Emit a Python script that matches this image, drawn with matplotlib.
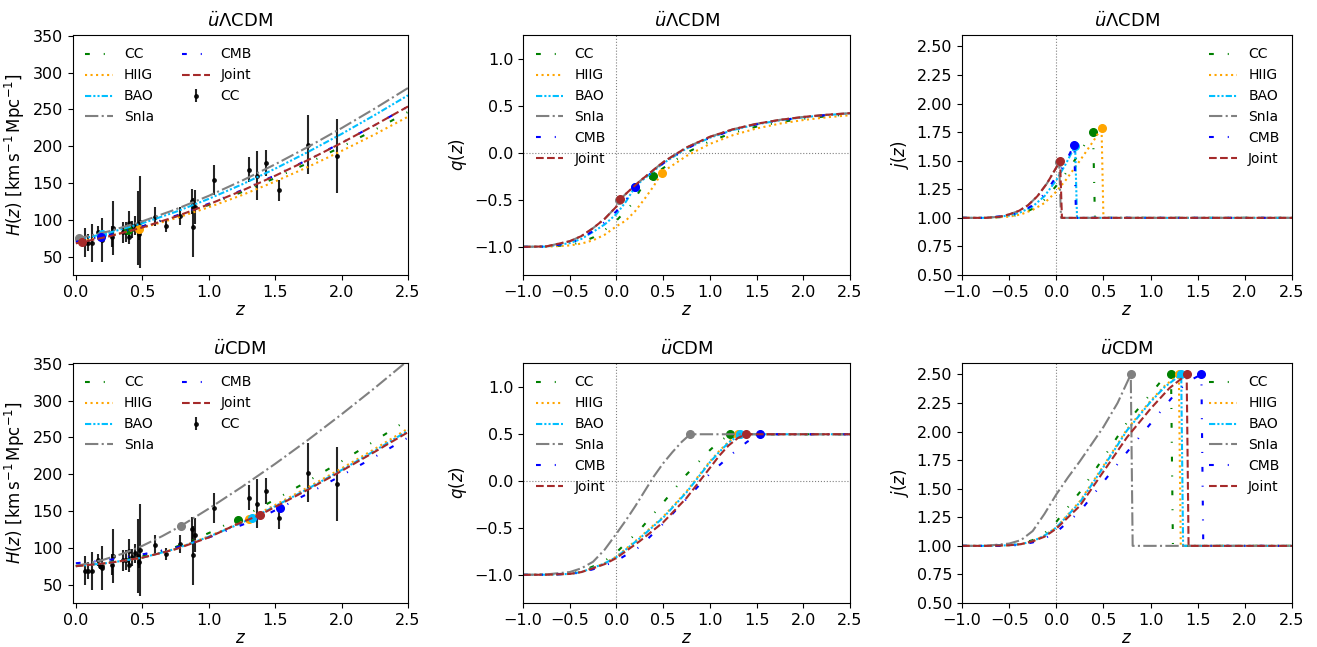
import matplotlib
matplotlib.use("Agg")
import matplotlib.pyplot as plt

# series order, colours and line styles shared by every panel
SERIES = ["CC", "HIIG", "BAO", "SnIa", "CMB", "Joint"]
COLORS = ["green", "orange", "deepskyblue", "gray", "blue", "brown"]
LOOSE_DD = (0, (2.3, 6.7, 0.5, 6.7))
STYLES = [LOOSE_DD, ":", (0, (3, 1, 1, 1, 1, 1)), "-.", LOOSE_DD, "--"]

# cosmic chronometer data
CC_Z = [0.07, 0.09, 0.12, 0.17, 0.179, 0.199, 0.2, 0.27, 0.28, 0.352, 0.38, 0.4,
        0.4004, 0.425, 0.445, 0.47, 0.4783, 0.48, 0.593, 0.68, 0.781, 0.875, 0.88,
        0.9, 1.037, 1.3, 1.363, 1.43, 1.53, 1.75, 1.965]
CC_H = [69, 69, 68.6, 83, 75, 75, 72.9, 77, 88.8, 83, 83, 95, 77, 87.1, 92.8, 89,
        80.9, 97, 104, 92, 105, 125, 90, 117, 154, 168, 160, 177, 140, 202, 186.5]
CC_ERR = [19.6, 12, 26.2, 8, 4, 5, 29.6, 14, 36.6, 14, 13.5, 17, 10.2, 11.2, 12.9,
          50, 9, 62, 13, 8, 12, 17, 40, 23, 20, 17, 33.6, 18, 14, 40, 50.4]

# ---- H(z), u-Lambda-CDM (top left) ----
HL_Z = [0, 0.25, 0.5, 0.75, 1.0, 1.25, 1.5, 1.75, 2.0, 2.25, 2.5]
HL_CC = [71.5, 79.9, 90.9, 104.4, 120.1, 137.6, 156.7, 177.3, 199.2, 222.3, 246.5]
HL_HIIG = [69.5, 78.0, 89.0, 102.0, 117.0, 133.5, 152.0, 172.0, 193.5, 216.0, 240.0]
HL_BAO = [72.5, 82.4, 95.2, 110.7, 128.4, 148.0, 169.4, 192.4, 216.6, 242.3, 269.1]
HL_SNIA = [74.0, 84.4, 97.9, 114.0, 132.5, 153.1, 175.3, 199.2, 224.5, 251.1, 279.0]
HL_CMB = [70.0, 79.1, 91.0, 105.3, 121.8, 140.2, 160.3, 181.8, 204.6, 228.6, 253.8]
HL_JOINT = [68.0, 77.4, 89.5, 104.2, 120.9, 139.5, 159.8, 181.4, 204.4, 228.6, 253.9]
HL_MARK_Z = [0.394, 0.477, 0.20, 0.025, 0.193, 0.043]
HL_MARK_V = [86.2, 88.0, 80.4, 75.0, 77.0, 69.6]

# ---- H(z), u-CDM (bottom left) ----
HU_CC_Z = [0, 0.25, 0.5, 0.75, 0.9, 1.034, 1.134, 1.217, 1.5, 1.75, 2.0, 2.25, 2.5]
HU_CC = [75.5, 80.5, 88.5, 101.0, 112.0, 122.7, 132.0, 138.2, 165.5, 190.9, 217.5, 245.3, 274.1]
HU_HIIG_Z = [0, 0.25, 0.5, 0.75, 1.0, 1.2, 1.30, 1.5, 1.75, 2.0, 2.25, 2.5]
HU_HIIG = [75.0, 79.5, 86.5, 98.5, 115.5, 131.0, 139.5, 158.1, 182.4, 207.8, 234.3, 261.9]
HU_BAO_Z = [0, 0.25, 0.5, 0.75, 1.0, 1.2, 1.325, 1.5, 1.75, 2.0, 2.25, 2.5]
HU_BAO = [75.0, 79.5, 86.5, 98.5, 115.0, 130.0, 140.3, 156.4, 180.5, 205.6, 231.9, 259.1]
HU_SNIA_Z = [0, 0.2, 0.37, 0.5, 0.65, 0.79, 1.0, 1.25, 1.5, 1.75, 2.0, 2.25, 2.5]
HU_SNIA = [75.1, 83.3, 93.0, 102.6, 115.8, 129.6, 153.1, 182.7, 214.0, 246.8, 281.3, 317.1, 354.4]
HU_CMB_Z = [0, 0.25, 0.5, 0.75, 1.0, 1.25, 1.4, 1.539, 1.75, 2.0, 2.25, 2.5]
HU_CMB = [79.0, 83.5, 91.0, 100.0, 114.0, 131.0, 142.0, 154.3, 173.9, 198.2, 223.5, 249.7]
HU_JOINT_Z = [0, 0.25, 0.5, 0.75, 1.0, 1.2, 1.383, 1.5, 1.75, 2.0, 2.25, 2.5]
HU_JOINT = [75.0, 79.5, 86.5, 98.0, 114.0, 131.0, 144.4, 155.5, 179.3, 204.4, 230.4, 257.0]
HU_MARK_Z = [1.217, 1.30, 1.325, 0.79, 1.539, 1.383]
HU_MARK_V = [138.2, 139.5, 140.3, 129.6, 154.3, 144.4]

# ---- q(z), u-Lambda-CDM (top middle) ----
Q_TAIL_Z = [0.75, 1.0, 1.25, 1.5, 1.75, 2.0, 2.25, 2.5]
QL_CC_Z = [-1, -0.75, -0.5, -0.375, -0.25, -0.125, 0, 0.16, 0.28, 0.396, 0.5] + Q_TAIL_Z
QL_CC = [-1.0, -0.998, -0.98, -0.95, -0.90, -0.82, -0.72, -0.55, -0.35, -0.24, -0.160,
         0.004, 0.127, 0.217, 0.283, 0.331, 0.366, 0.393, 0.413]
QL_HIIG_Z = [-1, -0.75, -0.5, -0.375, -0.25, -0.125, 0, 0.1, 0.2, 0.3, 0.4, 0.485, 0.5] + Q_TAIL_Z
QL_HIIG = [-1.0, -0.998, -0.985, -0.965, -0.93, -0.87, -0.78, -0.72, -0.62, -0.49, -0.35, -0.208,
           -0.197, -0.030, 0.098, 0.193, 0.263, 0.315, 0.353, 0.382, 0.404]
QL_BAO_Z = [-1, -0.75, -0.5, -0.375, -0.25, -0.125, 0, 0.1, 0.2, 0.25, 0.5] + Q_TAIL_Z
QL_BAO = [-1.0, -0.997, -0.96, -0.915, -0.84, -0.76, -0.65, -0.52, -0.36, -0.312, -0.109,
          0.049, 0.164, 0.247, 0.307, 0.350, 0.382, 0.406, 0.424]
QL_SNIA_Z = [-1, -0.75, -0.5, -0.375, -0.25, -0.125, 0, 0.03, 0.25, 0.5] + Q_TAIL_Z
QL_SNIA = [-1.0, -0.995, -0.94, -0.885, -0.80, -0.70, -0.57, -0.50, -0.299, -0.096,
           0.060, 0.174, 0.255, 0.313, 0.355, 0.386, 0.409, 0.426]
QL_CMB_Z = [-1, -0.75, -0.5, -0.375, -0.25, -0.125, 0, 0.1, 0.196, 0.25, 0.5] + Q_TAIL_Z
QL_CMB = [-1.0, -0.997, -0.96, -0.91, -0.83, -0.735, -0.62, -0.50, -0.361, -0.312, -0.109,
          0.049, 0.164, 0.247, 0.307, 0.350, 0.382, 0.406, 0.424]
QL_JOINT_Z = [-1, -0.75, -0.5, -0.375, -0.25, -0.125, 0, 0.043, 0.25, 0.5] + Q_TAIL_Z
QL_JOINT = [-1.0, -0.995, -0.94, -0.885, -0.80, -0.70, -0.57, -0.486, -0.299, -0.096,
            0.060, 0.174, 0.255, 0.313, 0.355, 0.386, 0.409, 0.426]
QL_MARK_Z = [0.396, 0.485, 0.20, 0.03, 0.196, 0.043]
QL_MARK_V = [-0.24, -0.208, -0.36, -0.50, -0.361, -0.486]

# ---- q(z), u-CDM (bottom middle) ----
QU_CC_Z = [-1, -0.75, -0.5, -0.375, -0.25, -0.125, 0, 0.25, 0.5, 0.75, 1.0, 1.1, 1.217, 2.5]
QU_CC = [-1.0, -0.997, -0.985, -0.96, -0.91, -0.85, -0.76, -0.52, -0.23, 0.07, 0.33, 0.42, 0.5, 0.5]
QU_HIIG_Z = [-1, -0.75, -0.5, -0.375, -0.25, -0.125, 0, 0.25, 0.5, 0.75, 1.0, 1.1, 1.2, 1.30, 2.5]
QU_HIIG = [-1.0, -0.998, -0.99, -0.97, -0.925, -0.875, -0.805, -0.60, -0.38, -0.11, 0.21, 0.32,
           0.42, 0.5, 0.5]
QU_BAO_Z = [-1, -0.75, -0.5, -0.375, -0.25, -0.125, 0, 0.25, 0.5, 0.75, 1.0, 1.1, 1.2, 1.325, 2.5]
QU_BAO = [-1.0, -0.998, -0.99, -0.97, -0.925, -0.877, -0.81, -0.61, -0.39, -0.12, 0.20, 0.31,
          0.41, 0.5, 0.5]
QU_SNIA_Z = [-1, -0.75, -0.5, -0.375, -0.25, -0.125, 0, 0.1, 0.2, 0.3, 0.4, 0.5, 0.6, 0.7, 0.79, 2.5]
QU_SNIA = [-1.0, -0.995, -0.97, -0.93, -0.86, -0.73, -0.56, -0.42, -0.27, -0.11, 0.05, 0.19,
           0.31, 0.42, 0.5, 0.5]
QU_CMB_Z = [-1, -0.75, -0.5, -0.375, -0.25, -0.125, 0, 0.25, 0.5, 0.75, 1.0, 1.25, 1.4, 1.539, 2.5]
QU_CMB = [-1.0, -0.998, -0.99, -0.975, -0.94, -0.90, -0.85, -0.70, -0.455, -0.19, 0.08, 0.30,
          0.42, 0.5, 0.5]
QU_JOINT_Z = [-1, -0.75, -0.5, -0.375, -0.25, -0.125, 0, 0.25, 0.5, 0.75, 1.0, 1.1, 1.2, 1.3,
              1.383, 2.5]
QU_JOINT = [-1.0, -0.998, -0.99, -0.97, -0.93, -0.885, -0.82, -0.64, -0.44, -0.18, 0.14, 0.27,
            0.38, 0.46, 0.5, 0.5]
QU_MARK_Z = [1.217, 1.30, 1.325, 0.79, 1.539, 1.383]
QU_MARK_V = [0.5, 0.5, 0.5, 0.5, 0.5, 0.5]

# ---- j(z), u-Lambda-CDM (top right) ----
JL_CC_Z = [-1, -0.75, -0.5, -0.375, -0.25, -0.125, 0, 0.1, 0.2, 0.3, 0.39, 0.41, 2.5]
JL_CC = [1.0, 1.0, 1.01, 1.03, 1.08, 1.16, 1.28, 1.39, 1.51, 1.64, 1.755, 1.0, 1.0]
JL_HIIG_Z = [-1, -0.75, -0.5, -0.375, -0.25, -0.125, 0, 0.1, 0.25, 0.4, 0.48, 0.50, 2.5]
JL_HIIG = [1.0, 1.0, 1.01, 1.03, 1.07, 1.13, 1.23, 1.33, 1.50, 1.68, 1.79, 1.0, 1.0]
JL_BAO_Z = [-1, -0.75, -0.5, -0.375, -0.25, -0.125, 0, 0.1, 0.2, 0.22, 2.5]
JL_BAO = [1.0, 1.0, 1.02, 1.05, 1.10, 1.19, 1.33, 1.47, 1.63, 1.0, 1.0]
JL_SNIA_Z = [-1, -0.75, -0.6, -0.5, -0.4, -0.3, -0.2, -0.1, 0, 0.03, 0.05, 2.5]
JL_SNIA = [1.0, 1.0, 1.01, 1.03, 1.06, 1.11, 1.19, 1.30, 1.44, 1.49, 1.0, 1.0]
JL_CMB_Z = [-1, -0.75, -0.5, -0.375, -0.25, -0.125, 0, 0.1, 0.19, 0.21, 2.5]
JL_CMB = [1.0, 1.0, 1.02, 1.05, 1.11, 1.21, 1.36, 1.49, 1.64, 1.0, 1.0]
JL_JOINT_Z = [-1, -0.75, -0.6, -0.5, -0.4, -0.3, -0.2, -0.1, 0, 0.04, 0.06, 2.5]
JL_JOINT = [1.0, 1.0, 1.01, 1.03, 1.06, 1.11, 1.19, 1.30, 1.44, 1.50, 1.0, 1.0]
JL_MARK_Z = [0.39, 0.48, 0.2, 0.03, 0.19, 0.04]
JL_MARK_V = [1.755, 1.79, 1.63, 1.49, 1.64, 1.50]

# ---- j(z), u-CDM (bottom right) ----
JU_CC_Z = [-1, -0.75, -0.5, -0.375, -0.25, -0.125, 0, 0.25, 0.5, 0.75, 1.0, 1.1, 1.217, 1.237, 2.5]
JU_CC = [1.0, 1.0, 1.005, 1.02, 1.05, 1.11, 1.21, 1.47, 1.77, 2.08, 2.33, 2.43, 2.5, 1.0, 1.0]
JU_HIIG_Z = [-1, -0.75, -0.5, -0.375, -0.25, -0.125, 0, 0.25, 0.5, 0.75, 1.0, 1.15, 1.30, 1.32, 2.5]
JU_HIIG = [1.0, 1.0, 1.005, 1.015, 1.04, 1.09, 1.16, 1.39, 1.70, 2.02, 2.27, 2.40, 2.5, 1.0, 1.0]
JU_BAO_Z = [-1, -0.75, -0.5, -0.375, -0.25, -0.125, 0, 0.25, 0.5, 0.75, 1.0, 1.15, 1.325, 1.345, 2.5]
JU_BAO = [1.0, 1.0, 1.005, 1.015, 1.04, 1.09, 1.16, 1.38, 1.69, 2.01, 2.26, 2.39, 2.5, 1.0, 1.0]
JU_SNIA_Z = [-1, -0.75, -0.5, -0.375, -0.25, -0.125, 0, 0.125, 0.25, 0.375, 0.5, 0.65, 0.79, 0.81, 2.5]
JU_SNIA = [1.0, 1.0, 1.02, 1.05, 1.13, 1.28, 1.45, 1.60, 1.74, 1.89, 2.04, 2.25, 2.5, 1.0, 1.0]
JU_CMB_Z = [-1, -0.75, -0.5, -0.375, -0.25, -0.125, 0, 0.25, 0.5, 0.75, 1.0, 1.25, 1.4, 1.539,
            1.559, 2.5]
JU_CMB = [1.0, 1.0, 1.0, 1.01, 1.03, 1.065, 1.12, 1.30, 1.56, 1.82, 2.07, 2.32, 2.44, 2.5, 1.0, 1.0]
JU_JOINT_Z = [-1, -0.75, -0.5, -0.375, -0.25, -0.125, 0, 0.25, 0.5, 0.75, 1.0, 1.2, 1.383, 1.403, 2.5]
JU_JOINT = [1.0, 1.0, 1.005, 1.015, 1.04, 1.08, 1.15, 1.35, 1.65, 1.95, 2.2, 2.38, 2.5, 1.0, 1.0]
JU_MARK_Z = [1.217, 1.30, 1.325, 0.79, 1.539, 1.383]
JU_MARK_V = [2.5, 2.5, 2.5, 2.5, 2.5, 2.5]

TITLE_L = r"$\ddot{u}\Lambda$CDM"
TITLE_U = r"$\ddot{u}$CDM"


def draw_models(ax, zs, vals, mark_z, mark_v):
    for i, name in enumerate(SERIES):
        ax.plot(zs[i], vals[i], linestyle=STYLES[i], color=COLORS[i], lw=1.5, label=name)
        ax.plot(mark_z[i], mark_v[i], "o", color=COLORS[i], ms=5.5)


def h_panel(ax, zs, vals, mark_z, mark_v, title):
    ax.errorbar(CC_Z, CC_H, yerr=CC_ERR, fmt=".", color="k", ms=5,
                elinewidth=1.5, capsize=0, alpha=0.85, label="CC", zorder=1.5)
    draw_models(ax, zs, vals, mark_z, mark_v)
    ax.set_xlim(-0.025, 2.5)
    ax.set_ylim(25, 351)
    ax.set_yticks([50, 100, 150, 200, 250, 300, 350])
    ax.set_ylabel(r"$H(z)\ [\mathrm{km\,s^{-1}\,Mpc^{-1}}]$", fontsize=12)
    h, l = ax.get_legend_handles_labels()
    ax.legend(h, l, ncol=2, loc="upper left", frameon=False, fontsize=10)
    ax.set_title(title, fontsize=13)


def q_panel(ax, zs, vals, mark_z, mark_v, title):
    ax.axvline(0, color="gray", ls=":", lw=0.8)
    ax.axhline(0, color="gray", ls=":", lw=0.8)
    draw_models(ax, zs, vals, mark_z, mark_v)
    ax.set_xlim(-1, 2.5)
    ax.set_ylim(-1.3, 1.26)
    ax.set_yticks([-1.0, -0.5, 0.0, 0.5, 1.0])
    ax.set_ylabel(r"$q(z)$", fontsize=12)
    ax.legend(loc="upper left", frameon=False, fontsize=10)
    ax.set_title(title, fontsize=13)


def j_panel(ax, zs, vals, mark_z, mark_v, title):
    ax.axvline(0, color="gray", ls=":", lw=0.8)
    draw_models(ax, zs, vals, mark_z, mark_v)
    ax.set_xlim(-1, 2.5)
    ax.set_ylim(0.5, 2.6)
    ax.set_yticks([0.5, 0.75, 1.0, 1.25, 1.5, 1.75, 2.0, 2.25, 2.5])
    ax.set_yticklabels([f"{v:.2f}" for v in ax.get_yticks()])
    ax.set_ylabel(r"$j(z)$", fontsize=12)
    ax.legend(loc="upper right", frameon=False, fontsize=10)
    ax.set_title(title, fontsize=13)


fig = plt.figure(figsize=(13.17, 6.47), dpi=100)
W, H = 1317.0, 647.0
cols = [(72.5, 335.5), (523, 327), (962, 330)]
rows = [(35, 240), (363, 240)]
axes = [[fig.add_axes([x / W, 1 - (y + h) / H, w / W, h / H]) for (x, w) in cols] for (y, h) in rows]

h_panel(axes[0][0], [HL_Z] * 6, [HL_CC, HL_HIIG, HL_BAO, HL_SNIA, HL_CMB, HL_JOINT],
        HL_MARK_Z, HL_MARK_V, TITLE_L)
h_panel(axes[1][0], [HU_CC_Z, HU_HIIG_Z, HU_BAO_Z, HU_SNIA_Z, HU_CMB_Z, HU_JOINT_Z],
        [HU_CC, HU_HIIG, HU_BAO, HU_SNIA, HU_CMB, HU_JOINT], HU_MARK_Z, HU_MARK_V, TITLE_U)
q_panel(axes[0][1], [QL_CC_Z, QL_HIIG_Z, QL_BAO_Z, QL_SNIA_Z, QL_CMB_Z, QL_JOINT_Z],
        [QL_CC, QL_HIIG, QL_BAO, QL_SNIA, QL_CMB, QL_JOINT], QL_MARK_Z, QL_MARK_V, TITLE_L)
q_panel(axes[1][1], [QU_CC_Z, QU_HIIG_Z, QU_BAO_Z, QU_SNIA_Z, QU_CMB_Z, QU_JOINT_Z],
        [QU_CC, QU_HIIG, QU_BAO, QU_SNIA, QU_CMB, QU_JOINT], QU_MARK_Z, QU_MARK_V, TITLE_U)
j_panel(axes[0][2], [JL_CC_Z, JL_HIIG_Z, JL_BAO_Z, JL_SNIA_Z, JL_CMB_Z, JL_JOINT_Z],
        [JL_CC, JL_HIIG, JL_BAO, JL_SNIA, JL_CMB, JL_JOINT], JL_MARK_Z, JL_MARK_V, TITLE_L)
j_panel(axes[1][2], [JU_CC_Z, JU_HIIG_Z, JU_BAO_Z, JU_SNIA_Z, JU_CMB_Z, JU_JOINT_Z],
        [JU_CC, JU_HIIG, JU_BAO, JU_SNIA, JU_CMB, JU_JOINT], JU_MARK_Z, JU_MARK_V, TITLE_U)

for row in axes:
    for ax in row:
        ax.set_xlabel(r"$z$", fontsize=12, labelpad=1)
        ax.tick_params(labelsize=11.5)
        if ax.get_xlim()[0] < -0.5:
            ax.set_xticks([-1.0, -0.5, 0.0, 0.5, 1.0, 1.5, 2.0, 2.5])
        else:
            ax.set_xticks([0.0, 0.5, 1.0, 1.5, 2.0, 2.5])

fig.savefig("out.png", dpi=100)
